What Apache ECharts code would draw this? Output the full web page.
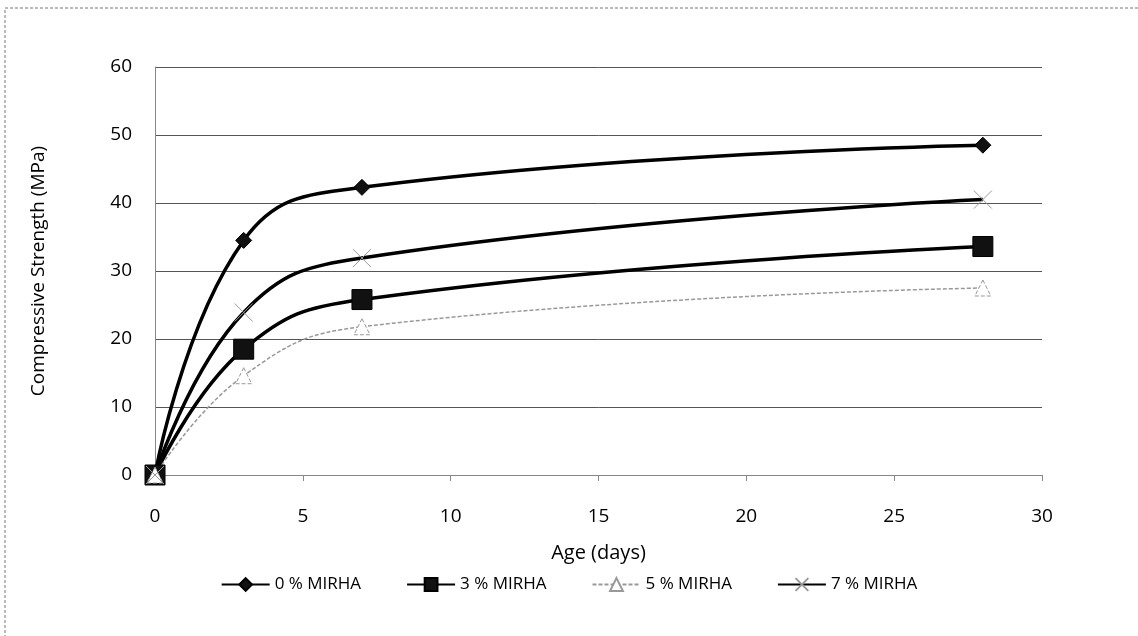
<!DOCTYPE html>
<html>
<head>
<meta charset="utf-8">
<script src="https://cdn.jsdelivr.net/npm/echarts@6/dist/echarts.min.js"></script>
<style>
  html, body { margin: 0; padding: 0; background: #fff; }
  #chart { width: 1138px; height: 636px; }
</style>
</head>
<body>
<div id="chart"></div>
<script>
// age in days
const ages = [0, 3, 7, 28];
const mirha0 = [0, 34.5, 42.3, 48.5];
const mirha3 = [0, 18.5, 25.8, 33.6];
const mirha5 = [0, 14.6, 21.8, 27.5];
const mirha7 = [0, 23.9, 31.9, 40.5];
const seriesNames = ['0 % MIRHA', '3 % MIRHA', '5 % MIRHA', '7 % MIRHA'];

const pairs = (ys) => ages.map((a, i) => [a, ys[i]]);
const font = 'Open Sans';

const chart = echarts.init(document.getElementById('chart'));

const option = {
  backgroundColor: '#fff',
  animation: false,
  graphic: [{
    type: 'rect',
    shape: { x: 5, y: 8, width: 1140, height: 640 },
    style: { fill: 'none', stroke: '#777', lineWidth: 1, lineDash: [3, 2] }
  }],
  grid: { left: 155, right: 96, top: 67, bottom: 161 },
  xAxis: {
    type: 'value', min: 0, max: 30, interval: 5,
    name: 'Age (days)', nameLocation: 'middle', nameGap: 68,
    nameTextStyle: { fontFamily: font, fontSize: 20, color: '#000' },
    axisLine: { lineStyle: { color: '#888' } },
    axisTick: { show: true, length: 6, lineStyle: { color: '#888' } },
    axisLabel: { fontFamily: font, fontSize: 19, color: '#000', margin: 32 },
    splitLine: { show: false }
  },
  yAxis: {
    type: 'value', min: 0, max: 60, interval: 10,
    name: 'Compressive Strength (MPa)', nameLocation: 'middle', nameGap: 107,
    nameTextStyle: { fontFamily: font, fontSize: 19, color: '#000' },
    axisLine: { show: true, lineStyle: { color: '#888' } },
    axisTick: { show: false },
    axisLabel: { fontFamily: font, fontSize: 19, color: '#000', margin: 23 },
    splitLine: { lineStyle: { color: '#555', width: 1 } }
  },
  legend: {
    bottom: 38, left: 'center', itemGap: 45, itemWidth: 48, itemHeight: 16,
    textStyle: { fontFamily: font, fontSize: 17, color: '#000' },
    data: seriesNames
  },
  series: [
    {
      name: seriesNames[0], type: 'line', smooth: 0.45, data: pairs(mirha0),
      symbol: 'diamond', symbolSize: 16,
      lineStyle: { color: '#000', width: 3.5 },
      itemStyle: { color: '#111', borderColor: '#000', borderWidth: 1 }
    },
    {
      name: seriesNames[1], type: 'line', smooth: 0.45, data: pairs(mirha3),
      symbol: 'rect', symbolSize: 20,
      lineStyle: { color: '#000', width: 3.5 },
      itemStyle: { color: '#111', borderColor: '#000', borderWidth: 1 }
    },
    {
      name: seriesNames[2], type: 'line', smooth: 0.45, data: pairs(mirha5),
      symbol: 'triangle', symbolSize: 16,
      lineStyle: { color: '#999', width: 1.5, type: [4, 2] },
      itemStyle: { color: '#fff', borderColor: '#999', borderWidth: 1, borderType: 'dashed' }
    },
    {
      name: seriesNames[3], type: 'line', smooth: 0.45, data: pairs(mirha7),
      symbol: 'path://M0,0L10,10M10,0L0,10', symbolSize: 18,
      lineStyle: { color: '#000', width: 3.5 },
      itemStyle: { color: '#fff', borderColor: '#999', borderWidth: 1 }
    }
  ]
};

chart.setOption(option);
</script>
</body>
</html>
